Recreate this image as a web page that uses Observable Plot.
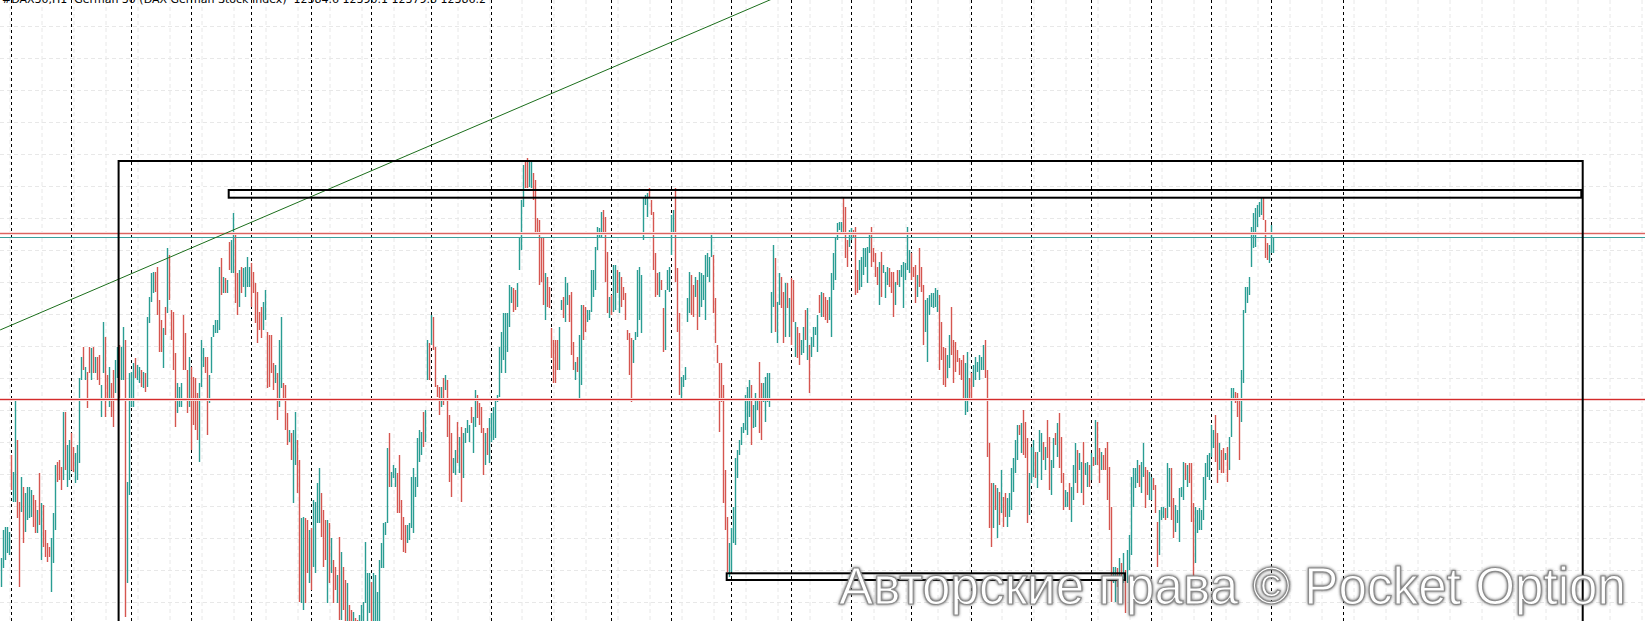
<!DOCTYPE html>
<html>
<head>
<meta charset="utf-8">
<script src="https://cdn.jsdelivr.net/npm/d3@7"></script>
<script src="https://cdn.jsdelivr.net/npm/@observablehq/plot@0.6"></script>
<style>
  html, body { margin: 0; padding: 0; background: #fff; overflow: hidden; }
  #chart { position: relative; width: 1645px; height: 621px; overflow: hidden; }
</style>
</head>
<body>
<div id="chart"></div>
<script>
// ---- Chart texts ----
const titleText = "#DAX30,H1  German 30 (DAX German Stock Index)  12384.6 12390.1 12379.8 12386.2";
const watermarkText = "Авторские права © Pocket Option";

// ---- OHLC bars (H1): high, low, direction (u = up / teal, d = down / red) ----
const barHigh = [
 12063,12091,12094,12094,12089,12166,12149,12221,12181,12119,
 12144,12134,12128,12134,12134,12131,12126,12121,12111,12148,
 12118,12116,12091,12078,12074,12083,12108,12156,12159,12161,
 12154,12209,12209,12176,12181,12188,12174,12168,12176,12243,
 12264,12274,12254,12249,12274,12273,12274,12264,12264,12266,
 12236,12299,12284,12246,12254,12238,12251,12261,12274,12276,
 12274,12294,12281,12139,12248,12249,12258,12263,12256,12254,
 12251,12249,12248,12304,12324,12348,12349,12349,12354,12321,
 12301,12293,12314,12373,12366,12311,12309,12268,12238,12234,
 12238,12306,12288,12251,12264,12254,12244,12243,12228,12238,
 12281,12273,12264,12264,12246,12284,12296,12301,12301,12354,
 12363,12344,12343,12341,12379,12381,12408,12388,12348,12351,
 12354,12353,12354,12364,12354,12358,12349,12338,12329,12309,
 12314,12319,12331,12289,12286,12286,12258,12256,12248,12281,
 12304,12238,12236,12208,12191,12188,12191,12209,12181,12161,
 12103,12104,12103,12101,12091,12093,12121,12119,12138,12153,
 12128,12111,12101,12101,12098,12083,12061,12054,12046,12084,
 12069,12054,12041,12038,12016,12011,12009,12003,12001,12006,
 12016,12019,12079,12048,12048,12039,12048,12046,12029,12061,
 12078,12098,12099,12173,12188,12149,12156,12153,12148,12166,
 12121,12104,12096,12096,12098,12144,12153,12144,12183,12191,
 12189,12209,12211,12281,12278,12306,12304,12274,12236,12234,
 12234,12243,12246,12241,12206,12188,12163,12171,12199,12184,
 12194,12188,12193,12201,12196,12214,12204,12231,12226,12218,
 12214,12193,12188,12193,12203,12208,12214,12221,12226,12274,
 12289,12308,12308,12308,12336,12334,12333,12331,12338,12384,
 12421,12456,12459,12463,12459,12459,12448,12441,12403,12401,
 12384,12384,12348,12344,12334,12293,12281,12281,12281,12294,
 12321,12324,12344,12338,12326,12329,12279,12259,12264,12286,
 12316,12316,12314,12311,12311,12351,12351,12374,12394,12393,
 12409,12411,12404,12369,12324,12326,12356,12356,12351,12349,
 12344,12334,12328,12291,12288,12283,12281,12289,12351,12354,
 12346,12423,12426,12428,12433,12421,12409,12368,12348,12349,
 12341,12313,12331,12351,12354,12406,12411,12433,12353,12308,
 12244,12246,12254,12323,12349,12346,12336,12344,12341,12349,
 12348,12346,12366,12368,12364,12389,12366,12323,12276,12258,
 12258,12236,12151,12104,12078,12093,12114,12163,12171,12181,
 12194,12198,12226,12234,12241,12236,12216,12228,12221,12259,
 12238,12238,12244,12248,12248,12329,12376,12363,12319,12348,
 12344,12329,12338,12338,12323,12343,12341,12299,12294,12288,
 12281,12294,12311,12313,12276,12284,12294,12294,12306,12326,
 12329,12328,12324,12321,12324,12348,12368,12384,12398,12399,
 12399,12424,12414,12381,12391,12393,12391,12394,12351,12361,
 12364,12373,12373,12374,12388,12394,12373,12368,12354,12359,
 12369,12356,12349,12354,12353,12349,12349,12339,12351,12351,
 12356,12359,12358,12394,12371,12368,12354,12356,12346,12373,
 12354,12336,12321,12323,12326,12328,12328,12333,12331,12326,
 12299,12274,12273,12266,12286,12314,12281,12279,12271,12263,
 12261,12266,12258,12269,12243,12248,12256,12264,12259,12266,
 12264,12276,12281,12251,12178,12138,12138,12136,12133,12129,
 12151,12124,12128,12123,12128,12153,12163,12181,12196,12196,
 12198,12211,12199,12183,12148,12174,12181,12169,12169,12191,
 12188,12179,12174,12201,12184,12161,12183,12188,12198,12208,
 12184,12148,12131,12129,12138,12134,12156,12178,12171,12168,
 12159,12179,12158,12159,12156,12168,12164,12201,12199,12173,
 12169,12166,12173,12179,12154,12114,12054,12054,12053,12063,
 12058,12068,12051,12071,12086,12144,12153,12153,12161,12156,
 12159,12178,12154,12151,12149,12144,12143,12136,12099,12111,
 12114,12114,12113,12158,12153,12153,12123,12116,12111,12133,
 12134,12159,12158,12156,12158,12158,12118,12114,12111,12113,
 12111,12144,12158,12166,12168,12196,12191,12206,12188,12178,
 12171,12173,12168,12174,12184,12233,12233,12229,12228,12221,
 12251,12311,12334,12334,12344,12394,12408,12413,12416,12419,
 12424,12423,12401,12378,12376,12396,12384
];
const barLow = [
 12034,12053,12061,12068,12066,12131,12119,12119,12103,12034,
 12109,12078,12089,12101,12103,12104,12094,12088,12088,12096,
 12061,12074,12064,12059,12064,12029,12058,12091,12139,12141,
 12131,12141,12151,12134,12141,12151,12149,12138,12141,12158,
 12241,12251,12241,12213,12248,12241,12248,12248,12241,12236,
 12204,12248,12204,12221,12214,12204,12194,12228,12243,12221,
 12241,12241,12004,12038,12126,12214,12214,12243,12241,12238,
 12234,12233,12229,12234,12298,12319,12328,12329,12306,12269,
 12269,12253,12286,12308,12321,12281,12251,12194,12208,12214,
 12214,12251,12251,12208,12214,12171,12196,12191,12181,12159,
 12234,12254,12248,12186,12218,12248,12284,12288,12288,12291,
 12326,12328,12328,12328,12351,12348,12348,12318,12306,12314,
 12328,12334,12324,12334,12334,12314,12328,12298,12278,12291,
 12283,12291,12301,12233,12234,12248,12231,12238,12201,12214,
 12233,12221,12191,12176,12179,12161,12118,12156,12128,12019,
 12018,12011,12018,12048,12038,12031,12054,12048,12098,12098,
 12084,12054,12061,12018,12038,12048,12018,12031,12018,12001,
 12001,12011,11996,11991,11981,11976,11971,11966,11961,11971,
 11981,11996,12018,11996,12008,11996,11996,11991,11996,11996,
 12053,12053,12086,12098,12134,12134,12143,12134,12108,12108,
 12081,12069,12068,12078,12081,12093,12088,12124,12134,12159,
 12166,12174,12179,12241,12241,12276,12271,12234,12224,12206,
 12214,12216,12231,12184,12139,12124,12148,12146,12158,12148,
 12119,12143,12178,12188,12179,12198,12168,12194,12203,12196,
 12188,12146,12156,12166,12158,12179,12181,12183,12219,12224,
 12248,12261,12248,12269,12294,12318,12309,12311,12314,12351,
 12371,12414,12433,12433,12434,12433,12421,12388,12388,12336,
 12339,12316,12301,12314,12313,12263,12238,12238,12251,12251,
 12311,12303,12299,12316,12299,12266,12251,12241,12249,12223,
 12236,12281,12289,12299,12301,12309,12324,12331,12371,12384,
 12384,12386,12339,12308,12303,12306,12309,12311,12328,12308,
 12314,12321,12301,12281,12246,12219,12258,12281,12284,12301,
 12288,12381,12416,12404,12423,12406,12351,12324,12326,12324,
 12331,12269,12271,12331,12329,12366,12386,12339,12289,12226,
 12223,12234,12241,12299,12308,12306,12304,12324,12291,12304,
 12314,12321,12301,12344,12339,12364,12308,12278,12258,12189,
 12219,12118,12091,12049,12044,12049,12078,12076,12143,12166,
 12176,12188,12191,12186,12204,12176,12193,12194,12211,12188,
 12181,12219,12199,12219,12214,12288,12314,12289,12278,12316,
 12313,12278,12284,12313,12284,12276,12299,12264,12263,12256,
 12266,12268,12281,12261,12228,12264,12274,12286,12269,12308,
 12304,12304,12301,12298,12301,12284,12331,12341,12381,12391,
 12389,12386,12363,12354,12374,12381,12383,12326,12328,12331,
 12334,12346,12354,12338,12368,12354,12359,12344,12336,12316,
 12324,12348,12323,12336,12334,12328,12304,12316,12336,12334,
 12344,12313,12341,12351,12348,12341,12344,12318,12324,12334,
 12329,12276,12289,12259,12306,12314,12313,12314,12309,12251,
 12261,12236,12234,12243,12253,12266,12238,12249,12259,12246,
 12241,12221,12206,12209,12221,12221,12234,12241,12249,12241,
 12251,12251,12243,12164,12093,12074,12093,12111,12083,12096,
 12108,12094,12104,12094,12104,12111,12129,12148,12161,12186,
 12168,12166,12163,12098,12106,12138,12144,12143,12133,12169,
 12141,12161,12151,12163,12131,12126,12153,12176,12164,12153,
 12138,12111,12114,12114,12111,12099,12121,12138,12128,12151,
 12128,12116,12146,12134,12134,12141,12155,12156,12156,12138,
 12151,12151,12151,12121,12091,12019,12038,12019,12034,12041,
 12018,12038,12008,12038,12051,12066,12114,12133,12138,12134,
 12128,12144,12113,12126,12121,12121,12131,12108,12054,12066,
 12101,12103,12101,12103,12114,12101,12083,12089,12098,12079,
 12124,12121,12141,12134,12138,12099,12044,12058,12088,12091,
 12091,12101,12121,12144,12141,12164,12173,12159,12138,12151,
 12148,12148,12161,12139,12151,12184,12221,12218,12204,12161,
 12199,12238,12308,12318,12326,12354,12373,12374,12394,12404,
 12406,12401,12363,12361,12358,12368,12368
];
const barDir = [
 "uuuuuduudd","uduuuuddud","udddduuudd","duduudduuu","ududdududd",
 "uuddudduud","uuduuuuduu","duduuuuddd","dududddduu","uddduddddu",
 "uudduuuuuu","dududuuddu","duuuuddddd","duuddddudu","uddduduudd",
 "uudduduuuu","dddududdud","uddudduddu","uuuuuduuuu","uuuuduuudd",
 "ddduuuuuuu","uduududddd","ududdduudu","duuuuduudd","dduduuuuuu",
 "uuuuuudduu","uudduudddd","dduddddddu","uduudddudu","udduuuuuuu",
 "uddduduudu","dddddduuuu","uuuudddddu","dduuuuuddd","uuuuuddudu",
 "uuuuuudddd","dddduuuuuu","uuuuuduuud","duuuuuuduu","ddududdudd",
 "uududuuuud","uddduuuuuu","uddduudddu","uuuuuddddu","duuudddudu",
 "uuuuudddud","dduuuuuuud","ddduuddddd","dduudduuuu","uuddddudud",
 "udduuuuuud","uddduuuduu","ududduudud","dduuduuudu","uduudududd",
 "uddddduudu","duduuuuuud","uudduudddu","uuduudduuu","uududdduuu",
 "uuuuuuuddu","dduduuuddd","uuuuuuuuuu","uddduuu"
].join("").split("");

// ---- Period separators (bar index where each new session starts) ----
const sessionStarts = [5,35,65,95,125,155,185,215,245,275,305,335,365,395,425,455,485,515,545,575,605,635,671];

// ---- Horizontal levels (price) ----
const upperLevelRed = 12388;
const upperLevelTeal = 12384;
const lowerLevelRed = 12222;

// ---- Trend line anchors: [bar index, price] ----
const trendIndex = [-0.5, 450];
const trendPrice = [12291.7, 12678];

// ---- Rectangles: bar index from/to, price from/to ----
const boxNames = ["range", "top band", "bottom band"];
const boxFrom  = [58.8, 113.85, 362.85];
const boxTo    = [790.85, 790.15, 562];
const boxTop   = [12460, 12431, 12047.7];
const boxBottom= [11900, 12423.3, 12041];

// ---- build tables ----
const bars = barHigh.map((h, i) => ({i, high: h, low: barLow[i], dir: barDir[i]}));
const upBars = bars.filter(d => d.dir === "u");
const downBars = bars.filter(d => d.dir === "d");
const trend = trendIndex.map((x, k) => ({i: x, p: trendPrice[k]}));
const boxes = boxNames.map((n, k) => ({n, x1: boxFrom[k], x2: boxTo[k], y1: boxTop[k], y2: boxBottom[k]}));
// MT4 screen grid (every 16 bars / every 32 points)
const gridBars = d3.range(4.25, 822, 16);
const gridPrices = d3.range(12595, 11980, -32);

const teal = "#2a9d93";
const red = "#d55650";

const plot = Plot.plot({
  width: 1645,
  height: 621,
  marginTop: 0, marginRight: 0, marginBottom: 0, marginLeft: 0,
  x: {domain: [-0.5, 822], axis: null},
  y: {domain: [12000, 12621], axis: null},
  style: {background: "#ffffff", overflow: "hidden"},
  marks: [
    Plot.ruleX(gridBars, {x: d => d, stroke: "#e8e8e8", strokeDasharray: "4,3"}),
    Plot.ruleY(gridPrices, {y: d => d, stroke: "#e8e8e8", strokeDasharray: "4,3"}),
    Plot.ruleX(sessionStarts, {x: d => d, stroke: "#000", strokeDasharray: "3,3", strokeWidth: 1}),
    Plot.ruleX(upBars, {x: "i", y1: "low", y2: "high", stroke: teal, strokeWidth: 1.4, clip: true}),
    Plot.ruleX(downBars, {x: "i", y1: "low", y2: "high", stroke: red, strokeWidth: 1.4, clip: true}),
    Plot.ruleY([upperLevelRed], {stroke: "#f8dada", strokeWidth: 3}),
    Plot.ruleY([upperLevelRed], {stroke: "#dc6460", strokeWidth: 1}),
    Plot.ruleY([upperLevelTeal], {stroke: "#3a9f9b", strokeWidth: 1}),
    Plot.ruleY([lowerLevelRed], {stroke: "#f6d2d2", strokeWidth: 3}),
    Plot.ruleY([lowerLevelRed], {stroke: "#d42b2b", strokeWidth: 1}),
    Plot.line(trend, {x: "i", y: "p", stroke: "#1c6f1c", strokeWidth: 1, clip: true}),
    Plot.rect(boxes, {x1: "x1", x2: "x2", y1: "y1", y2: "y2", fill: "none", stroke: "#000", strokeWidth: 2, clip: true})
  ]
});

const svg = d3.select(plot);
// title (clipped at top as in the terminal)
svg.append("text")
  .attr("x", 2).attr("y", 3)
  .attr("text-anchor", "start")
  .attr("font-family", "DejaVu Sans, sans-serif")
  .attr("font-size", 11)
  .attr("fill", "#000")
  .text(titleText);

// watermark
const defs = svg.append("defs");
const f = defs.append("filter").attr("id", "wmshadow").attr("x", "-5%").attr("y", "-20%").attr("width", "110%").attr("height", "140%");
f.append("feGaussianBlur").attr("in", "SourceAlpha").attr("stdDeviation", 1.6).attr("result", "b");
f.append("feFlood").attr("flood-color", "#555").attr("result", "c");
f.append("feComposite").attr("in", "c").attr("in2", "b").attr("operator", "in").attr("result", "s");
const m = f.append("feMerge");
m.append("feMergeNode").attr("in", "s");
m.append("feMergeNode").attr("in", "SourceGraphic");
svg.append("text")
  .attr("x", 839).attr("y", 604)
  .attr("text-anchor", "start")
  .attr("font-family", "Liberation Sans, Arial, sans-serif")
  .attr("font-size", 51)
  .attr("textLength", 787)
  .attr("lengthAdjust", "spacingAndGlyphs")
  .attr("fill", "#ffffff")
  .attr("stroke", "#8c8c8c")
  .attr("stroke-width", 1.2)
  .attr("filter", "url(#wmshadow)")
  .text(watermarkText);

document.getElementById("chart").appendChild(plot);
</script>
</body>
</html>
